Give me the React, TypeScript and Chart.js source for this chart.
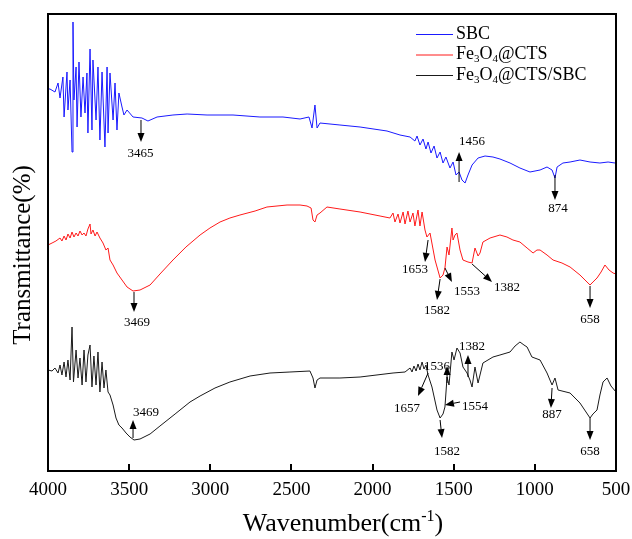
import React, { useEffect, useRef } from 'react';
import { Chart, registerables } from 'chart.js';

Chart.register(...registerables);

const FONT = '"Liberation Serif", "Times New Roman", serif';

// ---- data (wavenumber in cm-1, transmittance in arbitrary offset units) ----
const seriesNames = ['SBC', 'Fe₃O₄@CTS', 'Fe₃O₄@CTS/SBC'];
const seriesColors = ['#1a1aff', '#ff1a1a', '#1a1a1a'];

const sbcWn = [4000,3988,3957,3938,3926,3908,3901,3883,3877,3864,3852,3846,3840,3827,3821,3809,3797,3784,3772,3760,3754,3741,3729,3723,3704,3692,3680,3667,3649,3636,3630,3618,3599,3587,3575,3563,3544,3532,3513,3476,3421,3384,3328,3230,3143,3020,2860,2694,2552,2447,2392,2373,2355,2342,2324,2201,2077,1911,1831,1769,1739,1726,1708,1689,1671,1658,1640,1621,1603,1584,1566,1548,1523,1504,1486,1467,1449,1430,1412,1387,1350,1307,1258,1215,1153,1092,1030,968,925,894,876,863,827,783,722,660,599,549,506,500];
const sbcT = [382,382,379,388,373,394,354,399,361,391,319,449,371,404,344,409,354,394,358,398,338,422,341,411,351,404,331,399,324,404,338,398,351,388,341,378,364,356,361,354,353,350,354,356,357,356,356,354,354,352,354,343,366,343,348,346,344,340,336,334,330,335,326,332,322,329,318,325,313,319,308,314,303,309,296,299,291,288,296,306,313,315,314,312,308,303,299,301,304,301,293,304,308,309,311,309,308,309,308,308];

const ctsWn = [4000,3975,3951,3926,3914,3901,3889,3877,3864,3852,3840,3827,3815,3803,3790,3778,3766,3754,3741,3735,3723,3710,3698,3680,3661,3643,3630,3618,3599,3575,3544,3513,3476,3433,3371,3310,3230,3150,3063,3002,2940,2879,2817,2724,2651,2527,2447,2404,2379,2367,2355,2342,2324,2281,2201,2077,1954,1893,1874,1862,1843,1831,1812,1800,1782,1769,1751,1739,1720,1708,1695,1677,1665,1646,1615,1584,1566,1554,1541,1529,1511,1504,1492,1480,1461,1443,1412,1387,1369,1350,1338,1320,1276,1215,1172,1135,1092,1048,1011,987,968,925,888,833,783,722,660,642,617,592,568,543,518,500];
const ctsT = [226,228,230,233,230,235,231,237,233,239,234,238,235,240,236,238,235,242,247,237,241,235,239,233,228,221,223,211,206,198,191,184,180,181,186,197,211,224,236,243,249,253,256,260,264,266,266,265,263,251,249,256,258,264,262,259,255,253,258,249,257,248,259,247,260,249,258,245,261,245,259,241,234,238,211,193,196,203,224,216,243,231,236,238,221,211,209,208,223,215,218,229,233,236,234,231,229,223,218,221,221,216,211,208,204,196,186,189,193,199,206,201,198,197];

const compWn = [4000,3975,3957,3938,3926,3914,3901,3889,3877,3864,3852,3843,3827,3815,3803,3790,3778,3766,3754,3741,3729,3717,3704,3692,3680,3667,3655,3643,3630,3618,3599,3581,3563,3544,3519,3495,3470,3433,3371,3310,3217,3125,3063,2971,2879,2755,2632,2509,2386,2367,2355,2342,2324,2201,2077,1874,1800,1769,1757,1745,1732,1720,1708,1695,1683,1671,1658,1634,1603,1584,1566,1554,1541,1529,1511,1498,1480,1461,1443,1418,1400,1387,1369,1350,1320,1258,1215,1153,1122,1092,1067,1048,1018,968,925,894,876,857,783,722,660,642,617,599,580,555,531,500];
const compT = [101,100,103,98,106,96,109,94,111,91,144,89,121,93,113,86,121,89,116,126,84,115,86,119,79,109,83,101,79,76,66,53,46,43,38,34,31,32,37,45,57,69,75,83,89,95,98,99,100,93,83,91,93,93,94,98,99,103,99,105,100,107,101,109,102,106,96,84,61,53,57,64,94,86,119,111,123,118,104,98,91,84,104,88,108,114,116,119,125,129,126,124,114,111,98,86,93,81,78,68,53,57,61,76,89,93,85,79];

const xTickValues = [4000, 3500, 3000, 2500, 2000, 1500, 1000, 500];

// peak annotations: [text, fromWn, fromT, toWn, toT, labelWn, labelT]
const sbcPeaks: [string, number, number, number, number, number, number][] = [
  ['3465', 3427, 351, 3427, 329, 3430, 317],
  ['1456', 1467, 289, 1467, 319, 1387, 329],
  ['874', 876, 296, 876, 271, 857, 262],
];
const ctsPeaks: [string, number, number, number, number, number, number][] = [
  ['3469', 3470, 179, 3470, 159, 3452, 148],
  ['1653', 1658, 231, 1677, 209, 1739, 201],
  ['1582', 1584, 192, 1603, 171, 1603, 160],
  ['1553', 1554, 203, 1511, 189, 1418, 179],
  ['1382', 1387, 207, 1264, 189, 1172, 183],
  ['658', 660, 185, 660, 163, 660, 151],
];
const compPeaks: [string, number, number, number, number, number, number][] = [
  ['3469', 3476, 33, 3476, 51, 3396, 58],
  ['1657', 1658, 98, 1720, 75, 1788, 62],
  ['1536', 1541, 88, 1541, 105, 1603, 104],
  ['1554', 1461, 69, 1554, 66, 1369, 64],
  ['1382', 1412, 94, 1412, 116, 1387, 124],
  ['1582', 1584, 51, 1572, 33, 1541, 19],
  ['887', 894, 83, 901, 63, 894, 56],
  ['658', 660, 53, 660, 31, 660, 19],
];

function toPoints(wn: number[], t: number[]) {
  return wn.map((w, i) => ({ x: w, y: t[i] }));
}

const SUBS = '₀₁₂₃₄₅₆₇₈₉';

function drawRich(ctx: CanvasRenderingContext2D, text: string, x: number, y: number, size: number) {
  let cx = x;
  for (const ch of text) {
    const si = SUBS.indexOf(ch);
    if (si >= 0) {
      ctx.font = `${Math.round(size * 0.62)}px ${FONT}`;
      ctx.fillText(String(si), cx, y + size * 0.28);
      cx += ctx.measureText(String(si)).width;
    } else {
      ctx.font = `${size}px ${FONT}`;
      ctx.fillText(ch, cx, y);
      cx += ctx.measureText(ch).width;
    }
  }
}

const decorPlugin = {
  id: 'decor',
  afterDatasetsDraw(chart: any) {
    const { ctx, chartArea: a, scales } = chart;
    const xs = scales.x;
    const ys = scales.y;
    ctx.save();
    // frame
    ctx.strokeStyle = '#000';
    ctx.lineWidth = 2;
    ctx.strokeRect(a.left, a.top, a.right - a.left, a.bottom - a.top);
    // inward ticks
    for (const v of xTickValues) {
      const px = Math.round(xs.getPixelForValue(v));
      ctx.beginPath();
      ctx.moveTo(px, a.bottom);
      ctx.lineTo(px, a.bottom - 7);
      ctx.stroke();
    }
    // peak annotations
    ctx.lineWidth = 1;
    ctx.fillStyle = '#000';
    ctx.strokeStyle = '#000';
    const all = [...sbcPeaks, ...ctsPeaks, ...compPeaks];
    for (const [text, fw, ft, tw, tt, lw, lt] of all) {
      const x1 = xs.getPixelForValue(fw), y1 = ys.getPixelForValue(ft);
      const x2 = xs.getPixelForValue(tw), y2 = ys.getPixelForValue(tt);
      const ang = Math.atan2(y2 - y1, x2 - x1);
      const hl = 9, hw = 3.5;
      const bx = x2 - hl * Math.cos(ang), by = y2 - hl * Math.sin(ang);
      ctx.beginPath();
      ctx.moveTo(x1, y1);
      ctx.lineTo(bx, by);
      ctx.stroke();
      ctx.beginPath();
      ctx.moveTo(x2, y2);
      ctx.lineTo(bx + hw * Math.sin(ang), by - hw * Math.cos(ang));
      ctx.lineTo(bx - hw * Math.sin(ang), by + hw * Math.cos(ang));
      ctx.closePath();
      ctx.fill();
      ctx.font = `13px ${FONT}`;
      ctx.textAlign = 'center';
      ctx.textBaseline = 'middle';
      ctx.fillText(text, xs.getPixelForValue(lw), ys.getPixelForValue(lt));
    }
    // legend
    ctx.textAlign = 'left';
    ctx.textBaseline = 'middle';
    seriesNames.forEach((name, i) => {
      const y = 34 + i * 20.5;
      ctx.strokeStyle = seriesColors[i];
      ctx.lineWidth = 1;
      ctx.beginPath();
      ctx.moveTo(416, y + 0.5);
      ctx.lineTo(453, y + 0.5);
      ctx.stroke();
      ctx.fillStyle = '#000';
      drawRich(ctx, name, 456, y, 18);
    });
    // axis titles
    ctx.fillStyle = '#000';
    ctx.save();
    ctx.translate(23, 255);
    ctx.rotate(-Math.PI / 2);
    ctx.textAlign = 'center';
    ctx.textBaseline = 'middle';
    ctx.font = `25px ${FONT}`;
    ctx.fillText('Transmittance(%)', 0, 0);
    ctx.restore();

    ctx.textAlign = 'left';
    ctx.textBaseline = 'alphabetic';
    const big = `26px ${FONT}`;
    const small = `16px ${FONT}`;
    ctx.font = big;
    const w1 = ctx.measureText('Wavenumber(cm').width;
    const w3 = ctx.measureText(')').width;
    ctx.font = small;
    const w2 = ctx.measureText('-1').width;
    const total = w1 + w2 + w3;
    let sx = 343 - total / 2;
    const base = 531;
    ctx.font = big;
    ctx.fillText('Wavenumber(cm', sx, base);
    sx += w1;
    ctx.font = small;
    ctx.fillText('-1', sx, base - 10);
    sx += w2;
    ctx.font = big;
    ctx.fillText(')', sx, base);
    ctx.restore();
  },
};

export default function App() {
  const ref = useRef<HTMLCanvasElement>(null);
  useEffect(() => {
    document.body.style.margin = '0';
    const canvas = ref.current;
    if (!canvas) return;
    const datasets = [
      toPoints(sbcWn, sbcT),
      toPoints(ctsWn, ctsT),
      toPoints(compWn, compT),
    ].map((d, i) => ({
      label: seriesNames[i],
      data: d,
      borderColor: seriesColors[i],
      backgroundColor: seriesColors[i],
      borderWidth: 1,
      pointRadius: 0,
      tension: 0,
      fill: false,
    }));
    const chart = new Chart(canvas, {
      type: 'line',
      data: { datasets },
      options: {
        animation: false,
        responsive: false,
        parsing: false as any,
        layout: { padding: { left: 48, right: 16, top: 14, bottom: 0 } },
        plugins: { legend: { display: false }, tooltip: { enabled: false } },
        scales: {
          x: {
            type: 'linear',
            min: 500,
            max: 4000,
            reverse: true,
            grid: { display: false, drawTicks: false },
            border: { display: false },
            ticks: {
              stepSize: 500,
              color: '#000',
              font: { family: FONT, size: 19 },
              padding: 8,
              maxRotation: 0,
              autoSkip: false,
              callback: (v: any) => String(v),
            },
            afterFit: (scale: any) => {
              scale.height = 68;
              scale.paddingLeft = 0;
              scale.paddingRight = 0;
            },
          },
          y: {
            type: 'linear',
            min: 0,
            max: 457,
            display: false,
          },
        },
      },
      plugins: [decorPlugin],
    });
    return () => chart.destroy();
  }, []);
  return <canvas ref={ref} width={632} height={539} style={{ display: 'block' }} />;
}
